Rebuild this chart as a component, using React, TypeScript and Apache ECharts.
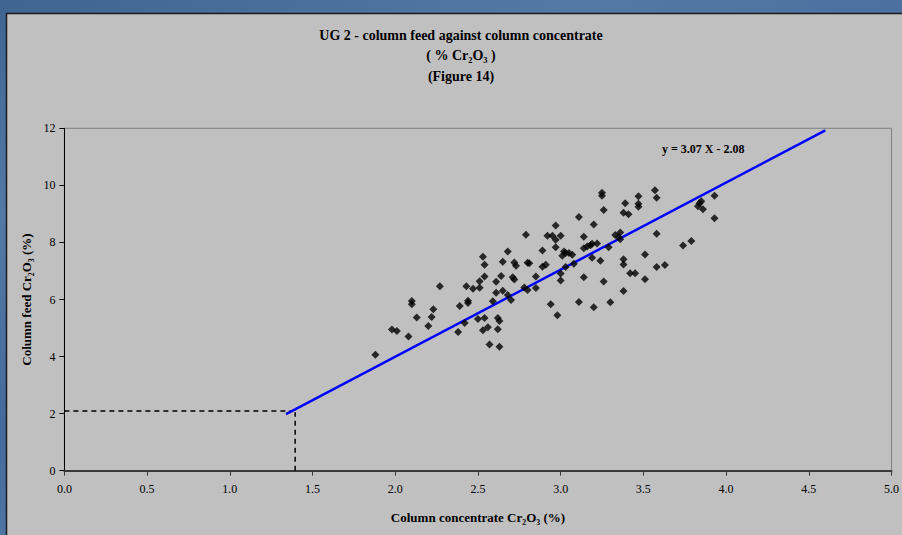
import React, { useEffect, useRef } from "react";
import * as echarts from "echarts";

const titleLines = ["UG 2 - column feed against column concentrate", "( % Cr₂O₃ )", "(Figure 14)"];
const xAxisName = "Column concentrate Cr₂O₃ (%)";
const yAxisName = "Column feed Cr₂O₃ (%)";
const equationText = "y = 3.07 X - 2.08";

const concentrateX = [
  1.88, 1.98, 2.01, 2.08, 2.10, 2.10, 2.13, 2.20, 2.22, 2.23,
  2.27, 2.38, 2.39, 2.42, 2.43, 2.44, 2.44, 2.47, 2.50, 2.51,
  2.51, 2.53, 2.54, 2.54, 2.54, 2.53, 2.56, 2.57, 2.59, 2.61,
  2.61, 2.62, 2.63, 2.62, 2.63, 2.64, 2.65, 2.65, 2.68, 2.68,
  2.70, 2.71, 2.72, 2.72, 2.73, 2.78, 2.79, 2.80, 2.80, 2.81,
  2.85, 2.85, 2.89, 2.89, 2.91, 2.92, 2.95, 2.94, 2.97, 2.97,
  2.97, 2.98, 3.00, 3.00, 3.00, 3.01, 3.02, 3.03, 3.05, 3.07,
  3.03, 3.08, 3.11, 3.11, 3.14, 3.14, 3.14, 3.16, 3.18, 3.19,
  3.22, 3.19, 3.20, 3.20, 3.24, 3.25, 3.25, 3.26, 3.26, 3.29,
  3.30, 3.33, 3.35, 3.36, 3.36, 3.38, 3.38, 3.38, 3.38, 3.39,
  3.41, 3.42, 3.45, 3.47, 3.47, 3.47, 3.51, 3.51, 3.57, 3.58,
  3.58, 3.58, 3.63, 3.74, 3.79, 3.83, 3.84, 3.85, 3.86, 3.93, 3.93,
];

const feedY = [
  4.06, 4.95, 4.90, 4.70, 5.95, 5.83, 5.37, 5.07, 5.39, 5.66,
  6.46, 4.86, 5.77, 5.18, 6.46, 5.96, 5.88, 6.38, 5.32, 6.41,
  6.64, 7.50, 7.22, 6.81, 5.35, 4.92, 5.03, 4.42, 5.94, 6.62,
  6.24, 5.35, 5.25, 4.96, 4.34, 6.82, 7.32, 6.31, 7.68, 6.16,
  5.98, 6.78, 6.70, 7.30, 7.18, 6.42, 8.27, 6.33, 7.29, 7.27,
  6.81, 6.40, 7.72, 7.15, 7.22, 8.23, 8.23, 5.83, 8.59, 8.09,
  7.83, 5.45, 8.23, 6.91, 6.67, 7.53, 7.68, 7.63, 7.63, 7.57,
  7.14, 7.25, 5.91, 8.89, 6.78, 8.20, 7.80, 7.86, 7.90, 7.95,
  7.96, 7.46, 8.63, 5.73, 7.36, 9.74, 9.64, 9.14, 6.63, 7.83,
  5.90, 8.26, 8.19, 8.35, 8.11, 7.41, 7.23, 6.30, 9.04, 9.37,
  8.99, 6.92, 6.92, 9.62, 9.36, 9.25, 7.58, 6.71, 9.83, 9.57,
  8.30, 7.14, 7.21, 7.89, 8.05, 9.27, 9.37, 9.44, 9.16, 9.64, 8.85,
];

const fitLineX = [1.34, 4.6];
const fitLineY = [1.98, 11.93];

const guideHX = [0, 1.375];
const guideHY = [2.09, 2.09];
const guideVX = [1.395, 1.395];
const guideVY = [0, 2.05];

const FONT = "'Liberation Serif', 'Times New Roman', serif";

export default function App() {
  const ref = useRef<HTMLDivElement>(null);
  useEffect(() => {
    if (!ref.current) return;
    const chart = echarts.init(ref.current, null, { renderer: "svg" });
    const pairs = (xs: number[], ys: number[]) => xs.map((x, i) => [x, ys[i]]);
    const titleY = [35, 55.5, 76];
    chart.setOption({
      animation: false,
      backgroundColor: "transparent",
      graphic: [
        {
          type: "rect",
          z: -10,
          silent: true,
          shape: { x: 6.5, y: 13.5, width: 1000, height: 1000 },
          style: { fill: "#c0c0c0", stroke: "#1a1a1a", lineWidth: 1.5 },
        },
        ...titleLines.map((t, i) => ({
          type: "text",
          x: 461,
          y: titleY[i],
          z: 10,
          style: {
            text: t,
            font: `bold 14px ${FONT}`,
            fill: "#000",
            textAlign: "center",
            textVerticalAlign: "middle",
          },
        })),
        {
          type: "text",
          left: 662,
          top: 143,
          z: 10,
          style: {
            text: equationText,
            font: `bold 12px ${FONT}`,
            fill: "#000",
          },
        },
      ],
      grid: {
        left: 64.4,
        right: 6,
        top: 128.3,
        bottom: 64.3,
        show: true,
        borderColor: "#808080",
        borderWidth: 1,
        backgroundColor: "transparent",
      },
      xAxis: {
        type: "value",
        min: 0,
        max: 5,
        interval: 0.5,
        name: xAxisName,
        nameLocation: "middle",
        nameGap: 40,
        nameTextStyle: { fontFamily: FONT, fontWeight: "bold", fontSize: 13, color: "#000" },
        axisLine: { show: true, lineStyle: { color: "#3a3a3a", width: 2 } },
        axisTick: { show: true, length: 5, lineStyle: { color: "#3a3a3a" } },
        axisLabel: {
          margin: 12,
          fontFamily: FONT,
          fontSize: 12,
          color: "#000",
          formatter: (v: number) => v.toFixed(1),
        },
        splitLine: { show: false },
      },
      yAxis: {
        type: "value",
        min: 0,
        max: 12,
        interval: 2,
        name: yAxisName,
        nameLocation: "middle",
        nameGap: 28,
        nameTextStyle: { fontFamily: FONT, fontWeight: "bold", fontSize: 13, color: "#000" },
        axisLine: { show: true, lineStyle: { color: "#000", width: 1 } },
        axisTick: { show: true, length: 5, lineStyle: { color: "#000" } },
        axisLabel: { margin: 9, fontFamily: FONT, fontSize: 12, color: "#000" },
        splitLine: { show: false },
      },
      series: [
        {
          type: "line",
          data: pairs(guideHX, guideHY),
          showSymbol: false,
          symbol: "none",
          lineStyle: { color: "#000", width: 1.5, type: [5, 4] },
          silent: true,
        },
        {
          type: "line",
          data: pairs(guideVX, guideVY),
          showSymbol: false,
          symbol: "none",
          lineStyle: { color: "#000", width: 1.5, type: [5, 4] },
          silent: true,
        },
        {
          type: "line",
          data: pairs(fitLineX, fitLineY),
          showSymbol: false,
          symbol: "none",
          lineStyle: { color: "#0000ff", width: 2.5 },
          silent: true,
          z: 3,
        },
        {
          type: "scatter",
          data: pairs(concentrateX, feedY),
          symbol: "diamond",
          symbolSize: 8,
          itemStyle: { color: "#000" },
          z: 4,
        },
      ],
    });
    return () => chart.dispose();
  }, []);
  return (
    <div
      style={{
        position: "fixed",
        left: 0,
        top: 0,
        width: 902,
        height: 535,
        background:
          "linear-gradient(160deg, #3e6491 0%, #5479a6 25%, #45699a 50%, #5a7fac 75%, #3f6592 100%)",
      }}
    >
      <div ref={ref} style={{ width: 902, height: 535 }} />
    </div>
  );
}
